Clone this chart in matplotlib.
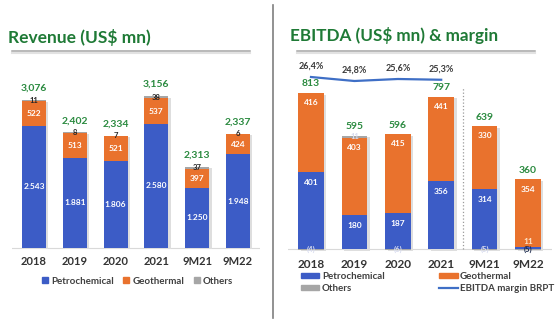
import matplotlib
matplotlib.use('Agg')
import matplotlib.pyplot as plt
from matplotlib.lines import Line2D
from matplotlib.patches import Patch
import numpy as np

plt.rcParams.update({
    'font.family': ['Lato', 'DejaVu Sans'],
    'axes.unicode_minus': False,
})

W, H = 556, 323

# Data (US$ mn)
periods = ['2018', '2019', '2020', '2021', '9M21', '9M22']

rev_petro = [2543, 1881, 1806, 2580, 1250, 1948]
rev_geo = [522, 513, 521, 537, 397, 424]
rev_other = [11, 8, 7, 38, 37, 6]
rev_total_labels = ['3,076', '2,402', '2,334', '3,156', '2,313', '2,337']

ebitda_petro = [401, 180, 187, 356, 314, 11]
ebitda_geo = [416, 403, 415, 441, 330, 354]
ebitda_other = [-4, 11, -6, 0, -5, -5]
ebitda_total = [813, 595, 596, 797, 639, 360]

margin_periods = ['2018', '2019', '2020', '2021']
margin = [26.4, 24.8, 25.6, 25.3]

BLUE = '#3c5cc6'
ORANGE = '#e9722d'
GRAY = '#a6a6a6'
GREEN = '#2a8a3f'
TITLE_GREEN = '#1f7a36'
LINE_BLUE = '#3f6fc6'
TEXT = '#262626'
LEG_TEXT = '#404040'
SHADOW = '#dedede'


def px_axes(fig, left, top, right, bottom):
    """Axes placed by pixel edges (origin top-left)."""
    return fig.add_axes([left / W, 1 - bottom / H, (right - left) / W, (bottom - top) / H])


def clean(ax):
    for s in ax.spines.values():
        s.set_visible(False)
    ax.set_yticks([])
    ax.tick_params(axis='x', length=0)


fig = plt.figure(figsize=(W / 100, H / 100), dpi=100)
fig.patch.set_facecolor('white')

# ---------------- Revenue ----------------
axL = px_axes(fig, 12, 60, 260, 252)
x = np.arange(len(periods))
bw = 0.59
petro = np.array(rev_petro)
geo = np.array(rev_geo)
other = np.array(rev_other)
top = petro + geo + other

axL.bar(x + 0.06, top, bw, bottom=-30, color=SHADOW, zorder=1)
axL.bar(x, petro, bw, color=BLUE, zorder=2)
axL.bar(x, geo, bw, bottom=petro, color=ORANGE, zorder=2)
axL.bar(x, other, bw, bottom=petro + geo, color=GRAY, zorder=2)
axL.axhline(0, color='#d9d9d9', lw=0.8, zorder=0)

for i in range(len(periods)):
    axL.text(x[i], petro[i] / 2, f'{petro[i]:,}'.replace(',', '.'), ha='center', va='center',
             color='white', fontsize=6, fontweight='bold', zorder=3)
    axL.text(x[i], petro[i] + geo[i] / 2, f'{geo[i]}', ha='center', va='center',
             color='white', fontsize=6, fontweight='bold', zorder=3)
    axL.text(x[i], petro[i] + geo[i] + other[i] / 2, f'{other[i]}', ha='center', va='center',
             color=TEXT, fontsize=5.5, fontweight='bold', zorder=3)
    axL.annotate(rev_total_labels[i], (x[i], top[i]), xytext=(0, 8.5), textcoords='offset points',
                 ha='center', va='center', color=GREEN, fontsize=7.5, fontweight='bold')

axL.set_xlim(-0.539, 5.539)
axL.set_ylim(-83, 3909)
axL.set_xticks(x, periods, fontweight='bold', fontsize=8, color='#333333')
axL.tick_params(axis='x', pad=3)
clean(axL)

fig.legend([Patch(color=BLUE), Patch(color=ORANGE), Patch(color=GRAY)],
           ['Petrochemical', 'Geothermal', 'Others'],
           loc='center', bbox_to_anchor=(137.5 / W, 1 - 281 / H), ncol=3, frameon=False,
           handlelength=0.6, handleheight=0.6, handletextpad=0.3, columnspacing=1.0,
           prop={'size': 7, 'weight': 'bold'}, labelcolor=LEG_TEXT)

# ---------------- EBITDA ----------------
axR = px_axes(fig, 288, 55, 552, 253)
ep = np.array(ebitda_petro)
eg = np.array(ebitda_geo)
eo = np.array(ebitda_other)
pos_top = ep + eg + np.clip(eo, 0, None)
other_bottom = np.where(eo >= 0, ep + eg, 0)
pxu = 0.191  # pixels per US$ mn on this panel

axR.bar(x + 0.06, pos_top, bw, bottom=-8, color=SHADOW, zorder=1)
axR.bar(x, ep, bw, color=BLUE, zorder=2)
axR.bar(x, eg, bw, bottom=ep, color=ORANGE, zorder=2)
axR.bar(x, eo, bw, bottom=other_bottom, color=GRAY, zorder=2)
axR.axhline(0, color='#d9d9d9', lw=0.8, zorder=0)
axR.axvline(3.5, ymin=0.02, ymax=0.84, color='#9a9a9a', ls=':', lw=0.9)

for i in range(len(periods)):
    small = ep[i] * pxu < 20
    if small:
        axR.annotate(f'{ep[i]}', (x[i], ep[i]), xytext=(0, 4), textcoords='offset points',
                     ha='center', va='center', color='#fde3c8', fontsize=6, fontweight='bold', zorder=3)
    else:
        axR.annotate(f'{ep[i]}', (x[i], ep[i]), xytext=(0, -7.5), textcoords='offset points',
                     ha='center', va='center', color='white', fontsize=6, fontweight='bold', zorder=3)
    axR.annotate(f'{eg[i]}', (x[i], ep[i] + eg[i]), xytext=(0, -7), textcoords='offset points',
                 ha='center', va='center', color='white', fontsize=6, fontweight='bold', zorder=3)
    if eo[i] != 0:
        lab = f'({-eo[i]})' if eo[i] < 0 else f'{eo[i]}'
        col = '#1f2d50' if small else '#d8dcef'
        axR.text(x[i], other_bottom[i] + eo[i] / 2, lab, ha='center', va='center',
                 color=col, fontsize=5.5, fontweight='bold', zorder=3)
    axR.annotate(f'{ebitda_total[i]}', (x[i], pos_top[i]), xytext=(0, 6.5), textcoords='offset points',
                 ha='center', va='center', color=GREEN, fontsize=7.5, fontweight='bold')

axR.set_xlim(-0.53, 5.553)
axR.set_ylim(-21, 1016)
axR.set_xticks(x, periods, fontweight='bold', fontsize=8.5, color='#333333')
axR.tick_params(axis='x', pad=4)
clean(axR)

# margin line on its own scale
axM = axR.twinx()
axM.set_ylim(-44, 35.2)
xm = np.arange(len(margin_periods))
axM.plot(xm, margin, color=LINE_BLUE, lw=1.6)
for xi, m in zip(xm, margin):
    axM.annotate(f'{m:.1f}%'.replace('.', ','), (xi, m), xytext=(0, 8), textcoords='offset points',
                 ha='center', va='center', color='#3a3a3a', fontsize=6.5, fontweight='bold')
axM.axis('off')

fig.legend([Patch(color=BLUE), Patch(color=GRAY), Patch(color=ORANGE), Line2D([], [], color=LINE_BLUE, lw=1.6)],
           ['Petrochemical', 'Others', 'Geothermal', 'EBITDA margin BRPT'],
           loc='upper left', bbox_to_anchor=(301 / W, 1 - 272 / H), ncol=2, frameon=False,
           handlelength=1.9, handleheight=0.55, handletextpad=0.25, columnspacing=5.6,
           labelspacing=0.3, borderpad=0, borderaxespad=0,
           prop={'size': 7, 'weight': 'bold'}, labelcolor=LEG_TEXT)

# ---------------- titles, rules, separator ----------------
fig.text(8 / W, 1 - 37 / H, 'Revenue (US$ mn)', fontsize=12.5, fontweight='bold',
         color=TITLE_GREEN, ha='left', va='center')
fig.text(290 / W, 1 - 35 / H, 'EBITDA (US$ mn) & margin', fontsize=12.3, fontweight='bold',
         color=TITLE_GREEN, ha='left', va='center')

for x0, x1 in [(12, 250), (297, 535)]:
    fig.add_artist(Line2D([x0 / W, x1 / W], [1 - 53 / H] * 2, color='#e2e2e2', lw=1.5))
    fig.add_artist(Line2D([x0 / W, x1 / W], [1 - 51 / H] * 2, color='#a6a6a6', lw=1.1))

fig.add_artist(Line2D([273 / W] * 2, [1 - 5 / H, 1 - 318 / H], color='#7f7f7f', lw=1.2))

fig.savefig('out.png', dpi=100)
